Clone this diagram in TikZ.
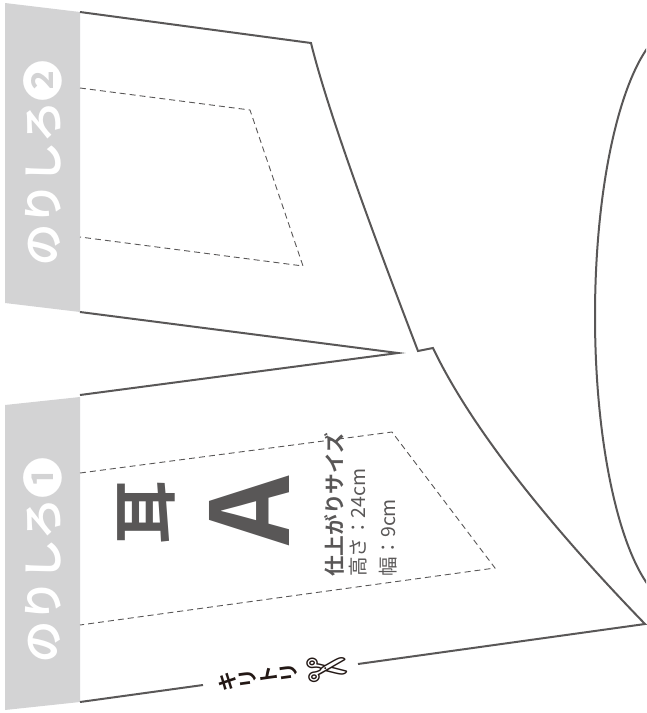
\documentclass[tikz,border=0pt]{standalone}
\usepackage{fontspec}
\setmainfont{Noto Sans CJK JP}[BoldFont={Noto Sans CJK JP Bold}]
\newfontfamily\symfont{DejaVu Sans}
\definecolor{linegray}{HTML}{595757}
\definecolor{tabgray}{HTML}{D3D3D4}
\definecolor{cutblack}{HTML}{231815}

\begin{document}
\begin{tikzpicture}[x=1pt, y=-1pt]
\tikzset{cut line/.style={draw=linegray, line width=2pt},
  fold line/.style={draw=linegray, line width=0.9pt, dash pattern=on 6pt off 4pt},
  glue tab/.style={fill=tabgray},
  tab text/.style={text=white, rotate=90, inner sep=0pt, font=\bfseries\fontsize{41}{41}\selectfont},
  size text/.style={text=linegray, rotate=90, anchor=west, inner sep=0pt, font=\fontsize{19.5}{19.5}\selectfont}}
\useasboundingbox (0,0) rectangle (646,713);
% glue tabs
\fill[glue tab] (5,3) -- (80,12) -- (80,312) -- (5,303) -- cycle;
\fill[glue tab] (5,405) -- (80,397) -- (80,702) -- (5,710) -- cycle;
\node[tab text] (tab2) at (43,163) {のりしろ❷};
\node[tab text] (tab1) at (43,560) {のりしろ❶};
% outline of the ear
\coordinate (top) at (311,43);
\coordinate (notch1) at (418,351);
\coordinate (notch2) at (433,348);
\coordinate (tip) at (645,624);
\coordinate (vtip) at (398,353);
\draw[cut line] (80,12) -- (top) .. controls (325,100) and (360,200) .. (notch1) -- (notch2)
  .. controls (460,405) and (520,495) .. (tip) -- (358,664);
\draw[cut line] (203,685) -- (80,702);
\draw[cut line] (80,312) -- (vtip) -- (80,395);
% fold lines
\draw[fold line] (80,88) -- (250,110) -- (303,266) -- (80,237);
\draw[fold line] (80,473) -- (392,432) -- (495,568) -- (80,625);
% head
\begin{scope}
\clip (0,0) rectangle (646,713);
\draw[cut line] (680,316) ellipse [x radius=85, y radius=290];
\end{scope}
% labels
\node[text=linegray, rotate=90, font=\bfseries\fontsize{64}{64}\selectfont] (ear) at (146,512) {耳};
\node[text=linegray, rotate=90, font=\bfseries\fontsize{108}{108}\selectfont] (letter) at (249,511) {A};
\node[size text, font=\bfseries\fontsize{20.7}{20.7}\selectfont] (finish) at (334,577) {仕上がりサイズ};
\node[size text] (height) at (358,577) {高さ：24cm};
\node[size text] (width) at (388,577) {幅：9cm};
\node[text=cutblack, rotate=97.9, align=center, inner sep=0pt, font=\bfseries\fontsize{20}{20.5}\selectfont] (cut) at (258,677) {キ\\リ\\ト\\リ};
\node[text=cutblack, rotate=7.9, inner sep=0pt, font=\symfont\fontsize{50}{50}\selectfont] (scissors) at (327,671) {✄};
\end{tikzpicture}
\end{document}
